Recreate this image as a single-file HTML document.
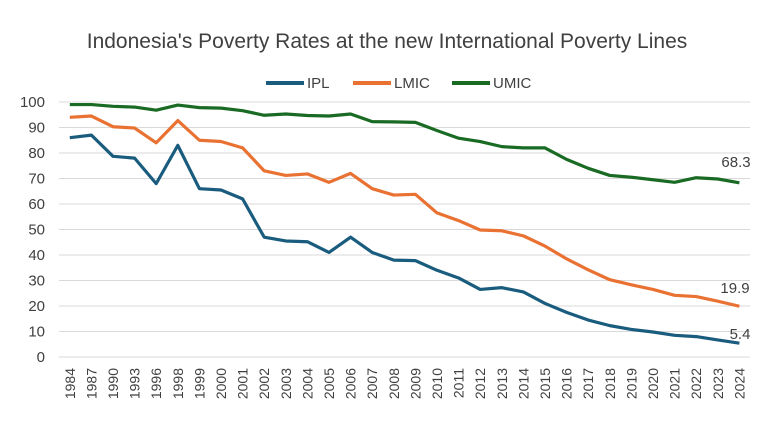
<!DOCTYPE html>
<html><head><meta charset="utf-8"><style>body{margin:0;background:#fff}svg{display:block}text{font-family:"Liberation Sans",sans-serif}</style></head><body>
<svg id="s" width="780" height="439" xmlns="http://www.w3.org/2000/svg">
<text x="387" y="48" text-anchor="middle" font-size="21" fill="#404040">Indonesia's Poverty Rates at the new International Poverty Lines</text>
<g font-size="15" fill="#404040">
<line x1="266" y1="83" x2="304" y2="83" stroke="#1a5c7e" stroke-width="4"/><text x="307" y="88">IPL</text>
<line x1="353" y1="83" x2="391" y2="83" stroke="#e97132" stroke-width="4"/><text x="394" y="88">LMIC</text>
<line x1="452" y1="83" x2="490" y2="83" stroke="#196b24" stroke-width="4"/><text x="493" y="88">UMIC</text>
</g>
<g id="g"></g>
</svg>
<script>
var yrs=[1984,1987,1990,1993,1996,1998];for(var y=1999;y<=2024;y++)yrs.push(y);
var ipl=[86,87,78.7,78,68,83,66,65.5,62,47,45.5,45.2,41,47,41,38,37.8,34,31,26.5,27.2,25.5,21,17.5,14.5,12.3,10.8,9.8,8.5,8,6.7,5.4];
var lm=[94,94.5,90.3,89.8,84,92.7,85,84.5,82,73,71.2,71.8,68.5,72,66,63.5,63.8,56.5,53.5,49.8,49.5,47.5,43.5,38.5,34.2,30.3,28.3,26.5,24.2,23.7,21.9,19.9];
var um=[99,99,98.3,98,96.8,98.8,97.8,97.6,96.6,94.8,95.3,94.7,94.5,95.3,92.3,92.2,92,88.8,85.8,84.5,82.5,82,82,77.5,74,71.2,70.5,69.5,68.5,70.3,69.8,68.3];
var h='';function Y(v){return 357-v*2.55}function X(i){return 69.8+i*21.6}
for(var v=0;v<=100;v+=10){h+='<line x1="59" x2="750" y1="'+Y(v)+'" y2="'+Y(v)+'" stroke="#d9d9d9" stroke-width="1"/><text x="45" y="'+(Y(v)+5)+'" text-anchor="end" font-size="15" fill="#404040">'+v+'</text>';}
yrs.forEach(function(y,i){h+='<text transform="translate('+(X(i)+5)+',368) rotate(-90)" text-anchor="end" font-size="14" fill="#404040">'+y+'</text>';});
[[ipl,'#1a5c7e'],[lm,'#e97132'],[um,'#196b24']].forEach(function(s){h+='<polyline fill="none" stroke="'+s[1]+'" stroke-width="3.2" stroke-linejoin="round" points="'+s[0].map(function(v,i){return X(i)+','+Y(v)}).join(' ')+'"/>';});
h+='<text x="736" y="167" text-anchor="middle" font-size="15" fill="#404040">68.3</text><text x="735" y="293" text-anchor="middle" font-size="15" fill="#404040">19.9</text><text x="740" y="339" text-anchor="middle" font-size="15" fill="#404040">5.4</text>';
document.getElementById('g').innerHTML=h;
</script>
</body></html>
